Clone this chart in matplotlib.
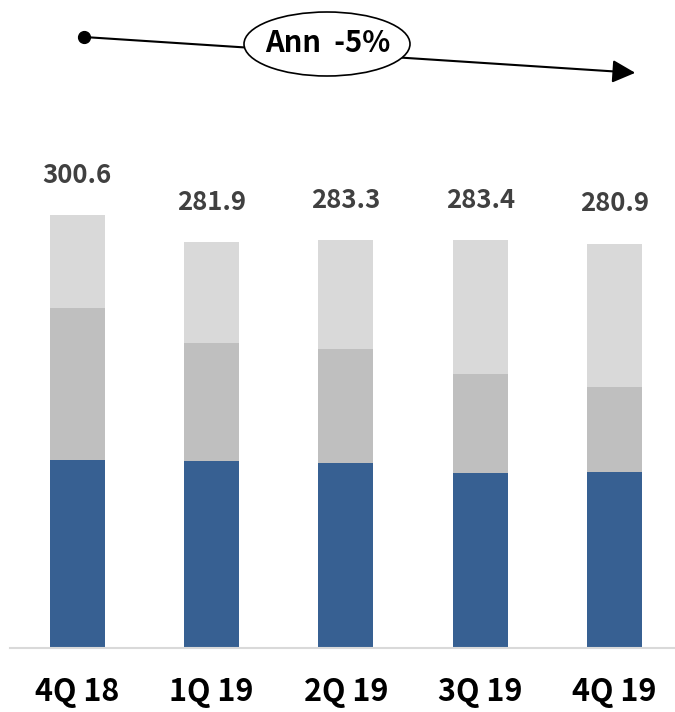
import numpy as np
import matplotlib
matplotlib.use('Agg')
import matplotlib.pyplot as plt
from matplotlib.patches import Ellipse

quarters = ['4Q 18', '1Q 19', '2Q 19', '3Q 19', '4Q 19']
totals = [300.6, 281.9, 283.3, 283.4, 280.9]
blue = [130.5, 129.9, 128.5, 121.5, 122.2]
mid = [105.5, 81.9, 79.2, 68.8, 59.0]
top = [t - b - m for t, b, m in zip(totals, blue, mid)]

plt.rcParams['font.family'] = ['Noto Sans CJK KR', 'DejaVu Sans']

fig = plt.figure(figsize=(6.75, 7.12), dpi=100)
ax = fig.add_axes([10 / 675, 64 / 712, 665 / 675, 648 / 712])

x = np.arange(len(quarters))
w = 0.41
ax.bar(x, blue, w, color='#376092')
ax.bar(x, mid, w, bottom=blue, color='#BFBFBF')
ax.bar(x, top, w, bottom=np.array(blue) + np.array(mid), color='#D9D9D9')

for xi, t in zip(x, totals):
    ax.annotate(f'{t:.1f}', (xi, t), xytext=(0, 19), textcoords='offset points',
                ha='center', va='bottom', fontsize=18.5, fontweight='bold', color='#404040')

ax.set_xlim(-0.5, 4.45)
ax.set_ylim(0, 450)
ax.set_xticks(x)
ax.set_xticklabels(quarters, fontsize=22, fontweight='bold', color='black')
ax.tick_params(axis='x', length=0, pad=20)
ax.set_yticks([])
for s in ['top', 'left', 'right']:
    ax.spines[s].set_visible(False)
ax.spines['bottom'].set_color('#D9D9D9')
ax.spines['bottom'].set_linewidth(1.5)

# trend arrow with ellipse label
def fx(px):
    return px / 675

def fy(py):
    return 1 - py / 712

fig.add_artist(plt.Line2D([fx(84)], [fy(37)], marker='o', markersize=8.5, color='black'))
fig.patches.append(matplotlib.patches.FancyArrowPatch(
    (fx(84), fy(37)), (fx(638), fy(73)), transform=fig.transFigure,
    arrowstyle='-|>,head_length=7,head_width=3.5', mutation_scale=2,
    color='black', lw=1.5))
fig.patches.append(Ellipse((fx(327), fy(44)), 166 / 675, 64 / 712, transform=fig.transFigure,
                           facecolor='white', edgecolor='black', lw=1.2, zorder=3))
fig.text(fx(328), fy(43), 'Ann  -5%', ha='center', va='center', fontsize=21,
         fontweight='bold', zorder=4)

fig.savefig('out.png', dpi=100)
